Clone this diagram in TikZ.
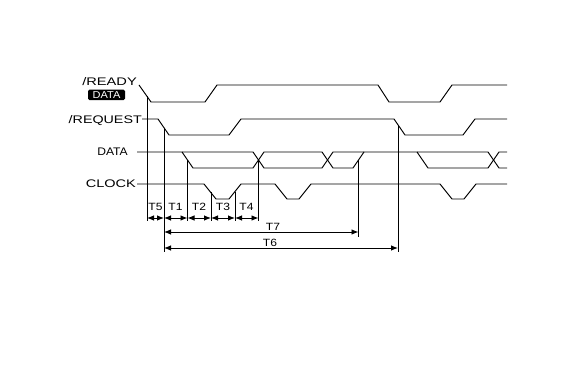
\documentclass[tikz,border=0pt]{standalone}
\usepackage{graphicx}
\usepackage{fontspec}
\setmainfont{Liberation Sans}
\usetikzlibrary{arrows.meta}
\begin{document}
\begin{tikzpicture}[x=1pt,y=-1pt,
  wave/.style={line width=0.95pt, line join=miter},
  guide/.style={line width=0.9pt},
  dim/.style={line width=0.9pt, {Latex[length=7pt,width=5.5pt]}-{Latex[length=7pt,width=5.5pt]}},
  sig/.style={font=\fontsize{11}{13}\selectfont, inner sep=0pt},
  tl/.style={font=\fontsize{10.5}{12}\selectfont, inner sep=0pt}]
\useasboundingbox (0,0) rectangle (568,371);

% signal labels
\node[sig, anchor=base east] (lready) at (137,86) {\scalebox{1.33}[1]{/READY}};
\node[fill=black, rounded corners=1.5pt, minimum width=37pt, minimum height=10.5pt,
      inner sep=0pt, text=white, font=\fontsize{10}{11}\selectfont] (lbox) at (106.5,95) {\scalebox{1.1}[1]{DATA}};
\node[sig, anchor=base east] (lreq) at (142,123.5) {\scalebox{1.3}[1]{/REQUEST}};
\node[sig, anchor=base east] (ldata) at (128,156) {\scalebox{1.1}[1]{DATA}};
\node[sig, anchor=base east] (lclk) at (136,188) {\scalebox{1.32}[1]{CLOCK}};

% /READY
\draw[wave] (139,85) -- (151,102) -- (205,102) -- (217,85) -- (378,85) -- (389,102)
  -- (440,102) -- (452,85) -- (507,85);
% /REQUEST
\draw[wave] (142,119) -- (158,119) -- (169,135) -- (229,135) -- (241,119) -- (394,119)
  -- (405,135) -- (463,135) -- (475,119) -- (507,119);
% DATA
\draw[wave] (137,152) -- (182,152) -- (193,168) -- (253,168) -- (264,152) -- (322,152)
  -- (333,168) -- (353,168) -- (364,152) -- (417,152) -- (428,168) -- (488,168)
  -- (499,152) -- (507,152);
\draw[wave] (182,152) -- (253,152) -- (264,168) -- (322,168) -- (333,152) -- (364,152);
\draw[wave] (417,152) -- (488,152) -- (499,168) -- (507,168);
% CLOCK
\draw[wave] (137,184) -- (204,184) -- (216,199) -- (229,199) -- (241,184) -- (275,184)
  -- (287,199) -- (299,199) -- (311,184) -- (440,184) -- (452,199) -- (464,199)
  -- (476,184) -- (507,184);

% guide lines
\coordinate (g5t) at (147,96);   \coordinate (g5b) at (147,221);
\coordinate (g1t) at (164,128);  \coordinate (g1b) at (164,252);
\coordinate (g2t) at (187.5,160);\coordinate (g2b) at (187.5,221);
\coordinate (g3t) at (211,192);  \coordinate (g3b) at (211,221);
\coordinate (g4t) at (235,192);  \coordinate (g4b) at (235,221);
\coordinate (g6t) at (258.5,160);\coordinate (g6b) at (258.5,221);
\coordinate (g7t) at (358.5,160);\coordinate (g7b) at (358.5,237);
\coordinate (g8t) at (398,126);  \coordinate (g8b) at (398,252);
\foreach \g in {5,1,2,3,4,6,7,8} \draw[guide] (g\g t) -- (g\g b);

% dimension arrows
\coordinate (a0) at (147,218); \coordinate (a1) at (164,218); \coordinate (a2) at (187.5,218);
\coordinate (a3) at (211,218); \coordinate (a4) at (235,218); \coordinate (a5) at (258.5,218);
\draw[dim] (a0) -- (a1);
\draw[dim] (a1) -- (a2);
\draw[dim] (a2) -- (a3);
\draw[dim] (a3) -- (a4);
\draw[dim] (a4) -- (a5);
\node[tl] (t5) at (155.5,207) {\scalebox{1.15}[1]{T5}};
\node[tl] (t1) at (175.5,207) {\scalebox{1.15}[1]{T1}};
\node[tl] (t2) at (199,207) {\scalebox{1.15}[1]{T2}};
\node[tl] (t3) at (223,207) {\scalebox{1.15}[1]{T3}};
\node[tl] (t4) at (246.5,207) {\scalebox{1.15}[1]{T4}};

\coordinate (b0) at (164,232); \coordinate (b1) at (358.5,232);
\draw[dim] (b0) -- (b1);
\node[tl] (t7) at (273,226.5) {\scalebox{1.15}[1]{T7}};
\coordinate (c0) at (164,248); \coordinate (c1) at (398,248);
\draw[dim] (c0) -- (c1);
\node[tl] (t6) at (270,242.5) {\scalebox{1.15}[1]{T6}};
\end{tikzpicture}
\end{document}
